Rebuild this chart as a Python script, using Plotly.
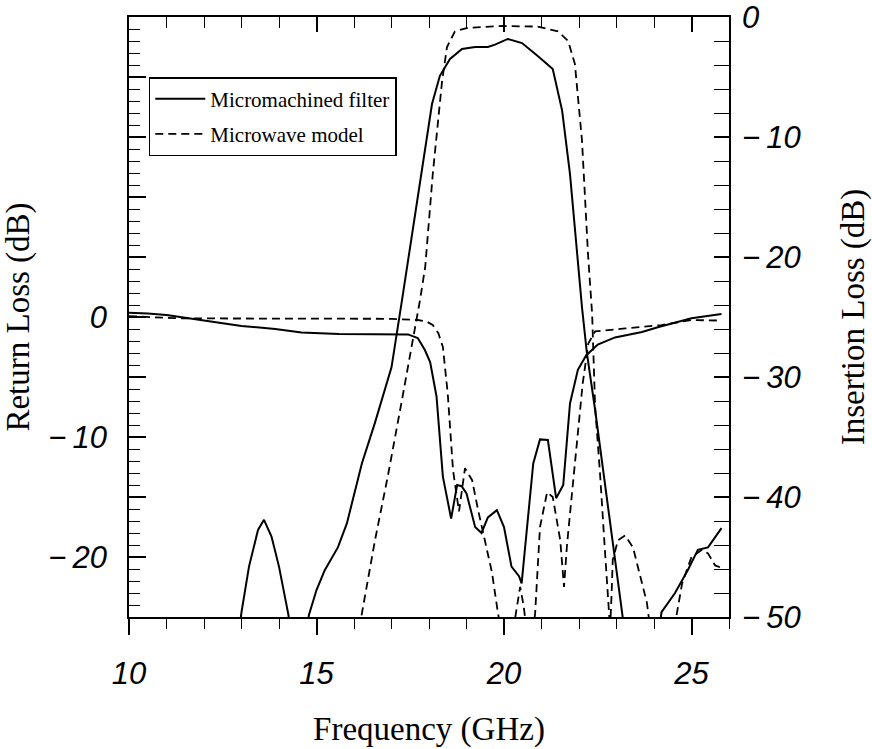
import plotly.graph_objects as go

# ---------------- data ----------------
# Micromachined filter - return loss (left axis, dB)
f_rl_meas = [10.0, 10.5, 11.0, 11.5, 12.1, 13.0, 13.9, 14.6, 15.6, 16.5, 17.0, 17.44, 17.7, 17.89,
             18.03, 18.2, 18.37, 18.59, 18.75, 18.87, 19.0, 19.23, 19.4, 19.57, 19.81, 20.0, 20.2,
             20.4, 20.47, 20.56, 20.78, 20.96, 21.17, 21.39, 21.58, 21.76, 21.97, 22.19, 22.5,
             22.96, 23.68, 24.1, 25.0, 25.8]
rl_meas = [0.35, 0.3, 0.17, -0.05, -0.3, -0.75, -1.0, -1.3, -1.42, -1.45, -1.45, -1.45, -1.75, -2.75,
           -3.75, -6.6, -13.3, -16.8, -14.0, -14.1, -14.7, -17.5, -18.0, -16.7, -16.1, -17.5, -20.8,
           -21.6, -22.2, -19.1, -12.2, -10.2, -10.25, -15.1, -14.0, -7.2, -4.4, -3.2, -2.3,
           -1.7, -1.25, -0.85, -0.1, 0.25]

# Microwave model - return loss (left axis, dB)
f_rl_model = [10.0, 11.2, 12.0, 14.0, 16.0, 17.0, 17.7, 17.95, 18.1, 18.25, 18.37, 18.5, 18.64,
              18.8, 18.96, 19.15, 19.31, 19.49, 19.68, 19.84, 19.92, 20.25, 20.32, 20.43, 20.52,
              20.6, 20.78, 20.83, 20.96, 21.15, 21.3, 21.5, 21.6, 21.68, 21.76, 21.95, 22.1,
              22.25, 22.43, 23.23, 24.2, 25.0, 25.8]
rl_model = [0.08, -0.1, -0.12, -0.15, -0.15, -0.15, -0.25, -0.4, -0.67, -1.35, -2.5, -6.4, -12.75,
            -16.2, -12.6, -13.6, -16.1, -18.6, -21.3, -24.7, -26.0, -26.0, -24.7, -22.5, -24.0,
            -26.0, -26.0, -24.7, -17.5, -14.6, -15.0, -18.6, -22.5, -19.0, -16.4, -10.5, -5.5,
            -2.2, -1.2, -0.95, -0.67, -0.25, -0.3]

# Micromachined filter - insertion loss (right axis, dB)
f_il_meas = [12.9, 13.0, 13.2, 13.44, 13.6, 13.8, 14.0, 14.25, 14.35, 14.7, 14.8, 15.0, 15.22,
             15.57, 15.81, 16.21, 16.56, 17.0, 17.28, 17.97, 18.08, 18.29, 18.56, 18.88, 19.23,
             19.57, 19.76, 20.1, 20.48, 20.9, 21.3, 21.55, 21.76, 22.08, 22.21, 22.43, 22.75,
             23.15, 23.25, 24.1, 24.2, 24.56, 24.9, 25.17, 25.44, 25.8]
il_meas = [-52.0, -49.6, -45.8, -42.75, -41.9, -43.3, -45.8, -49.8, -52.0, -52.0, -49.8, -47.75,
           -46.1, -44.2, -42.2, -37.2, -33.8, -29.2, -23.6, -9.5, -7.25, -4.9, -3.5, -2.67, -2.5,
           -2.5, -2.3, -1.83, -2.17, -3.25, -4.33, -7.8, -13.1, -24.2, -28.0, -32.75, -40.25,
           -49.7, -52.0, -52.0, -49.6, -48.0, -46.1, -44.4, -44.2, -42.6]

# Microwave model - insertion loss (right axis, dB)
f_il_model = [16.1, 16.21, 16.56, 16.9, 17.28, 17.55, 17.76, 17.9, 18.1, 18.35, 18.48, 18.69,
              19.04, 19.95, 20.9, 21.44, 21.71, 21.89, 22.08, 22.24, 22.35, 22.43, 22.56, 22.69,
              22.8, 22.83, 22.87, 22.9, 23.04, 23.23, 23.44, 23.63, 23.81, 23.9, 24.5, 24.61,
              24.75, 25.0, 25.28, 25.44, 25.63, 25.8]
il_model = [-52.0, -49.7, -43.6, -38.3, -31.9, -27.2, -23.6, -20.8, -13.1, -5.3, -2.5, -1.2,
            -0.9, -0.75, -0.8, -1.2, -2.0, -3.9, -10.3, -19.75, -24.75, -32.5, -38.0, -44.4,
            -49.7, -51.0, -48.0, -45.25, -43.6, -43.2, -44.2, -46.7, -48.8, -51.0, -51.0, -49.7,
            -47.2, -45.0, -44.4, -44.7, -45.7, -45.9]

series_names = ["Micromachined filter", "Microwave model"]

x_tickvals = [10, 15, 20, 25]
x_ticktext = ["10", "15", "20", "25"]
yl_tickvals = [-20, -15, -10, -5, 0, 5, 10, 15, 20]
yl_ticktext = ["\u2212\u200920", "", "\u2212\u200910", "", "0", "", "", "", ""]
yr_tickvals = [-50, -40, -30, -20, -10, 0]
yr_ticktext = ["\u2212\u200950", "\u2212\u200940", "\u2212\u200930", "\u2212\u200920",
               "\u2212\u200910", "0"]

# ---------------- figure ----------------
solid = dict(color="black", width=2.0)
dashed = dict(color="black", width=1.8, dash="8px,5px")

fig = go.Figure()
fig.add_trace(go.Scatter(x=f_rl_meas, y=rl_meas, mode="lines", line=solid,
                         name=series_names[0], legendgroup="a", yaxis="y"))
fig.add_trace(go.Scatter(x=f_rl_model, y=rl_model, mode="lines", line=dashed,
                         name=series_names[1], legendgroup="b", yaxis="y"))
fig.add_trace(go.Scatter(x=f_il_meas, y=il_meas, mode="lines", line=solid,
                         name=series_names[0], legendgroup="a", showlegend=False, yaxis="y2"))
fig.add_trace(go.Scatter(x=f_il_model, y=il_model, mode="lines", line=dashed,
                         name=series_names[1], legendgroup="b", showlegend=False, yaxis="y2"))
# anchor trace for the top (mirror) x axis
fig.add_trace(go.Scatter(x=[10, 26], y=[None, None], xaxis="x2", yaxis="y",
                         showlegend=False, hoverinfo="skip", mode="lines"))

tickfont = dict(family="Liberation Sans", size=31, color="black", style="italic")
titlefont = dict(family="Liberation Serif", size=33, color="black")

fig.update_layout(
    width=872, height=749,
    margin=dict(l=129, r=143, t=17, b=132, autoexpand=False),
    paper_bgcolor="white", plot_bgcolor="white",
    showlegend=True,
    legend=dict(x=0.033, y=0.9, xanchor="left", yanchor="top",
                bgcolor="white", bordercolor="black", borderwidth=1.5,
                font=dict(family="Liberation Serif", size=21, color="black"),
                itemwidth=50, tracegroupgap=5),
    xaxis=dict(range=[10, 26], showgrid=False, zeroline=False, automargin=False,
               showline=True, linecolor="black", linewidth=1.5,
               tickmode="array", tickvals=x_tickvals, ticktext=x_ticktext,
               ticks="outside", ticklen=16, tickwidth=1.5, tickcolor="black",
               minor=dict(tickmode="linear", tick0=10, dtick=1, ticks="outside",
                          ticklen=10, tickwidth=1.2, tickcolor="black"),
               tickfont=tickfont, ticklabelstandoff=12,
               title=dict(text="Frequency (GHz)", font=titlefont, standoff=27)),
    xaxis2=dict(range=[10, 26], matches="x", overlaying="x", side="top", anchor="y",
                showgrid=False, zeroline=False, showticklabels=False, automargin=False,
                showline=True, linecolor="black", linewidth=1.5,
                tickmode="array", tickvals=x_tickvals,
                ticks="inside", ticklen=15, tickwidth=1.5, tickcolor="black",
                minor=dict(tickmode="linear", tick0=10, dtick=1, ticks="inside",
                           ticklen=11, tickwidth=1.2, tickcolor="black")),
    yaxis=dict(range=[-25, 25], showgrid=False, zeroline=False, automargin=False,
               showline=True, linecolor="black", linewidth=1.5,
               tickmode="array", tickvals=yl_tickvals, ticktext=yl_ticktext,
               ticks="inside", ticklen=17, tickwidth=1.5, tickcolor="black",
               minor=dict(tickmode="linear", tick0=0, dtick=1, ticks="inside",
                          ticklen=11, tickwidth=1.2, tickcolor="black"),
               tickfont=tickfont, ticklabelstandoff=14, ticklabeloverflow="allow",
               title=dict(text="Return Loss (dB)", font=titlefont, standoff=10)),
    yaxis2=dict(range=[-50, 0], overlaying="y", side="right", anchor="x",
                showgrid=False, zeroline=False, automargin=False,
                showline=True, linecolor="black", linewidth=1.5,
                tickmode="array", tickvals=yr_tickvals, ticktext=yr_ticktext,
                ticks="inside", ticklen=15, tickwidth=1.5, tickcolor="black",
                minor=dict(tickmode="linear", tick0=0, dtick=2, ticks="inside",
                           ticklen=15, tickwidth=1.2, tickcolor="black"),
                tickfont=tickfont, ticklabelstandoff=5, ticklabeloverflow="allow",
                title=dict(text="Insertion Loss (dB)", font=titlefont, standoff=44)),
)

fig.write_html("out.html")
